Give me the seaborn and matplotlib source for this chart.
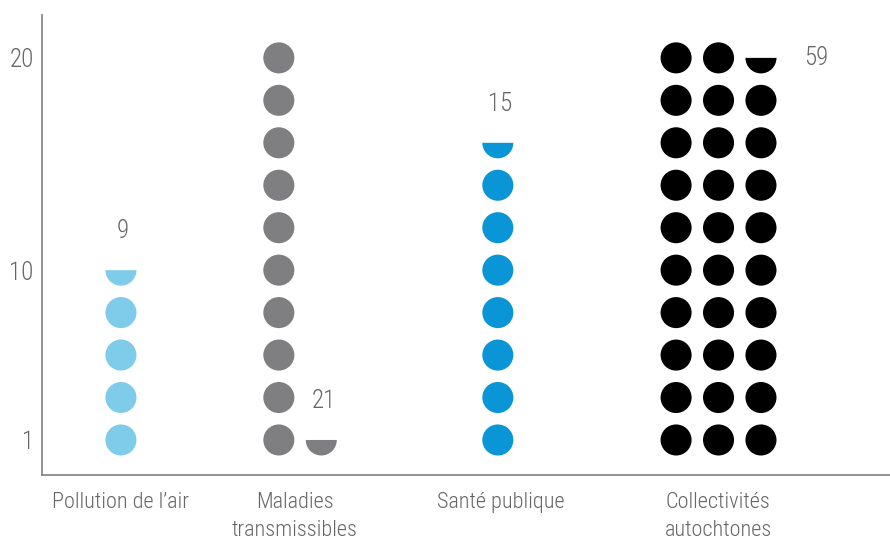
import numpy as np
import pandas as pd
import matplotlib
matplotlib.use("Agg")
import matplotlib.pyplot as plt
import seaborn as sns
from matplotlib.path import Path
from matplotlib import font_manager

# ---------------- data ----------------
categories = ["Pollution de l’air", "Maladies\ntransmissibles", "Santé publique", "Collectivités\nautochtones"]
values = [9, 21, 15, 59]
colors = ["#7fcbea", "#7f7f82", "#0a96d6", "#000000"]
ytick_values = [1, 10, 20]
ytick_labels = ["1", "10", "20"]
units_per_dot = 2
dots_per_column = 10

# ---------------- layout (column units) ----------------
group_x = [1.86, 5.58, 10.74, 14.94]
label_x = [1.84, 5.96, 10.81, 15.93]

sns.set_style("white")
avail = {f.name for f in font_manager.fontManager.ttflist}
fam = "DejaVu Sans"
for n in ["Roboto Condensed", "Liberation Sans Narrow", "Roboto", "Open Sans"]:
    if n in avail:
        fam = n
        break
plt.rcParams["font.family"] = [fam, "DejaVu Sans"]
plt.rcParams["font.weight"] = "light"

TXT = "#666666"
FS_NUM = 18
FS_CAT = 16

rows = []
label_pos = []
for cat, v, gx in zip(categories, values, group_x):
    n_full, half = divmod(v, units_per_dot)
    n = n_full + half
    for k in range(n):
        col, r = divmod(k, dots_per_column)
        rows.append({"category": cat, "x": gx + col, "y": r + 1,
                     "kind": "full" if k < n_full else "half"})
    col, r = divmod(n - 1, dots_per_column)
    if r + 1 < dots_per_column:
        label_pos.append((gx + col + 0.05, r + 2 - 0.08, v))
    else:
        label_pos.append((gx + col + 1.3, r + 1, v))
df = pd.DataFrame(rows)

half_marker = Path.wedge(180, 360)

fig = plt.figure(figsize=(8.9, 5.44), dpi=100)
ax = fig.add_axes([42 / 890, 69 / 544, 848 / 890, 460 / 544])

sns.scatterplot(data=df, x="x", y="y", hue="category", style="kind",
                palette=dict(zip(categories, colors)),
                markers={"full": "o", "half": half_marker},
                s=500, linewidth=0, legend=False, ax=ax)

for x, y, v in label_pos:
    ax.text(x, y, str(v), ha="center", va="center", fontsize=FS_NUM, color=TXT,
            fontweight="light")

ax.set_xlim(0, 19.98)
ax.set_ylim(0.175, 11.01)
ax.set_xlabel("")
ax.set_ylabel("")

ax.set_yticks([int(np.ceil(t / units_per_dot)) for t in ytick_values])
ax.set_yticklabels(ytick_labels)
ax.set_xticks(label_x)
ax.set_xticklabels(categories)
ax.tick_params(axis="y", length=0, pad=6, labelsize=FS_NUM, labelcolor=TXT)
ax.tick_params(axis="x", length=0, pad=12.5, labelsize=FS_CAT, labelcolor=TXT)
for t in ax.get_xticklabels() + ax.get_yticklabels():
    t.set_fontweight("light")
for t in ax.get_xticklabels():
    t.set_linespacing(1.4)

for s in ["top", "right"]:
    ax.spines[s].set_visible(False)
for s in ["left", "bottom"]:
    ax.spines[s].set_color("#8a8a8a")
    ax.spines[s].set_linewidth(1.3)

fig.savefig("out.png", dpi=100, facecolor="white")
